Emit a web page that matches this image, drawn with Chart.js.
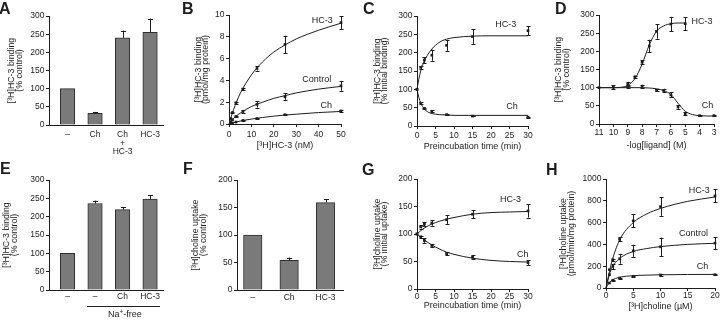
<!DOCTYPE html>
<html><head><meta charset="utf-8">
<script src="https://cdn.jsdelivr.net/npm/chart.js@4.4.1/dist/chart.umd.min.js"></script>
<style>
html,body{margin:0;padding:0;background:#fff;}
#fig{position:relative;width:720px;height:320px;overflow:hidden;font-family:"Liberation Sans",Arial,Helvetica,sans-serif;color:#1e1e1e;background:#fff;}
.pan{position:absolute;width:180px;height:160px;}
.pan canvas{display:block;}
.letter{position:absolute;font-weight:bold;font-size:16px;line-height:16px;}
.ann{position:absolute;font-size:9px;line-height:10px;white-space:nowrap;}
</style></head><body><div id="fig"></div>
<script>
// ---------------- DATA ----------------
// A: [3H]HC-3 binding (% control)
const aLabels = ['–', 'Ch', ['Ch', '+', 'HC-3'], 'HC-3'];
const aValues = [100, 32, 240, 255];
const aErrors = [0, 4, 20, 38];

// B: [3H]HC-3 binding (pmol/mg protein) vs [3H]HC-3 (nM)
const bConc = [0.78, 1.56, 3.125, 6.25, 12.5, 25, 50];
const bHC3 = [0.5, 1.05, 1.95, 3.2, 5.1, 7.3, 9.3];
const bHC3Err = [0, 0.05, 0.1, 0.1, 0.2, 0.8, 0.6];
const bControl = [0.2, 0.4, 0.7, 1.15, 1.8, 2.5, 3.5];
const bControlErr = [0, 0, 0.05, 0.1, 0.3, 0.3, 0.45];
const bCh = [0.05, 0.1, 0.18, 0.33, 0.5, 0.85, 1.2];
const bChErr = [0, 0, 0, 0.03, 0.05, 0.05, 0.08];
const bCurveX = [0, 2, 5, 10, 15, 20, 25, 30, 40, 50];
const bCurveHC3 = [0, 1.3, 2.8, 4.5, 5.7, 6.6, 7.25, 7.8, 8.6, 9.25];
const bCurveControl = [0, 0.5, 1.0, 1.6, 2.0, 2.35, 2.6, 2.85, 3.2, 3.45];
const bCurveCh = [0, 0.12, 0.27, 0.45, 0.6, 0.72, 0.82, 0.9, 1.05, 1.15];

// C: [3H]HC-3 binding (% initial) vs preincubation time (min)
const cTime = [0, 1, 2, 4, 8, 15, 30];
const cHC3 = [100, 160, 180, 193, 220, 244, 260];
const cHC3Err = [0, 5, 8, 15, 15, 20, 12];
const cCh = [100, 62, 48, 40, 31, 27, 24];
const cChErr = [0, 3, 2, 3, 2, 1, 1];
const cCurveT = [0, 0.5, 1, 2, 3, 4, 6, 8, 10, 15, 20, 30];
const cCurveHC3 = [100, 128, 150, 178, 196, 210, 228, 237, 241, 245, 246, 246];
const cCurveCh = [100, 78, 63, 46, 38, 34, 31, 30, 29, 29, 29, 29];

// D: [3H]HC-3 binding (% control) vs -log[ligand] (M)
const dHC3X = [9, 8.5, 8, 7.5, 7, 6, 5];
const dHC3 = [110, 130, 170, 215, 255, 275, 276];
const dHC3Err = [6, 3, 6, 17, 20, 20, 18];
const dChX = [11, 10, 9, 8, 7, 6.5, 6, 5.5, 5, 4, 3];
const dCh = [100, 101, 103, 104, 93, 92, 80, 47, 28, 23, 23];
const dChErr = [0, 6, 5, 4, 3, 5, 7, 5, 4, 1, 1];
const dCurveHC3X = [11, 10, 9.5, 9, 8.5, 8, 7.5, 7, 6.5, 6, 5.5, 5];
const dCurveHC3 = [100, 100, 101, 106, 125, 165, 218, 255, 270, 276, 278, 278];
const dCurveChX = [11, 10, 9, 8, 7.5, 7, 6.5, 6, 5.5, 5, 4.5, 4, 3.5, 3];
const dCurveCh = [100, 100, 100, 100, 99, 97, 92, 81, 57, 35, 26, 23, 22, 22];

// E: [3H]HC-3 binding (% control), Na+-free
const eLabels = ['–', '–', 'Ch', 'HC-3'];
const eValues = [100, 236, 219, 248];
const eErrors = [0, 8, 7, 10];

// F: [3H]choline uptake (% control)
const fLabels = ['–', 'Ch', 'HC-3'];
const fValues = [100, 54, 159];
const fErrors = [0, 5, 6];

// G: [3H]choline uptake (% initial) vs preincubation time (min)
const gTime = [0, 1, 2, 4, 8, 15, 30];
const gHC3 = [100, 113, 118, 120, 126, 136, 142];
const gHC3Err = [0, 3, 4, 5, 8, 7, 12];
const gCh = [100, 95, 88, 79, 64, 58, 48];
const gChErr = [0, 2, 4, 2, 3, 4, 4];
const gCurveT = [0, 1, 2, 4, 6, 8, 10, 15, 20, 25, 30];
const gCurveHC3 = [100, 106, 111, 118, 123, 127, 130, 136, 139, 140, 141];
const gCurveCh = [100, 94, 89, 80, 73, 67, 63, 56, 52, 50, 49];

// H: [3H]choline uptake (pmol/min/mg protein) vs [3H]choline (uM)
const hConc = [0.625, 1.25, 2.5, 5, 10, 20];
const hHC3 = [168, 259, 448, 616, 747, 845];
const hHC3Err = [0, 10, 20, 60, 85, 60];
const hControl = [122, 198, 268, 341, 378, 412];
const hControlErr = [0, 25, 45, 55, 85, 55];
const hCh = [46, 70, 91, 107, 119, 122];
const hChErr = [0, 3, 5, 6, 8, 5];
const hCurveX = [0, 0.5, 1, 2.5, 5, 7.5, 10, 15, 20];
const hCurveHC3 = [0, 120, 230, 440, 600, 680, 730, 795, 835];
const hCurveControl = [0, 100, 175, 270, 335, 362, 380, 400, 410];
const hCurveCh = [0, 42, 68, 98, 113, 118, 121, 124, 125];

// ---------------- RENDERING ----------------
const FONT = '"Liberation Sans", Arial, Helvetica, sans-serif';
const INK = '#1e1e1e';
const fig = document.getElementById('fig');

Chart.register({
  id: 'errorBars',
  afterDatasetsDraw(chart) {
    const ctx = chart.ctx;
    chart.data.datasets.forEach((ds, di) => {
      if (!ds.errors) return;
      const meta = chart.getDatasetMeta(di);
      const ys = chart.scales[meta.yAxisID];
      ctx.save();
      ctx.strokeStyle = INK; ctx.lineWidth = 1;
      meta.data.forEach((el, i) => {
        const e = ds.errors[i];
        if (!e) return;
        const v = ds.data[i].y;
        const x = Math.round(el.x) + 0.5;
        const yT = ys.getPixelForValue(v + e);
        const yB = ds.upOnly ? el.y : ys.getPixelForValue(v - e);
        const c = ds.capHalf || 2;
        ctx.beginPath();
        ctx.moveTo(x, yB); ctx.lineTo(x, yT);
        ctx.moveTo(x - c, Math.round(yT) + 0.5); ctx.lineTo(x + c, Math.round(yT) + 0.5);
        if (!ds.upOnly) { ctx.moveTo(x - c, Math.round(yB) + 0.5); ctx.lineTo(x + c, Math.round(yB) + 0.5); }
        ctx.stroke();
      });
      ctx.restore();
    });
  }
});
Chart.register({
  id: 'curveLabels',
  afterDraw(chart, args, opts) {
    if (!opts || !opts.items) return;
    const ctx = chart.ctx;
    ctx.save();
    ctx.font = '9px ' + FONT; ctx.fillStyle = INK; ctx.textAlign = 'center'; ctx.textBaseline = 'middle';
    opts.items.forEach(it => {
      ctx.fillText(it.t, chart.scales.x.getPixelForValue(it.x), chart.scales.y.getPixelForValue(it.y));
    });
    ctx.restore();
  }
});

function pts(xs, ys) { return xs.map((x, i) => ({x: x, y: ys[i]})); }
function curveDS(xs, ys) {
  return {type: 'line', data: pts(xs, ys), showLine: true, borderColor: INK, borderWidth: 1,
    pointRadius: 0, cubicInterpolationMode: 'monotone', fill: false, clip: false};
}
function pointDS(xs, ys, errs) {
  return {type: 'scatter', data: pts(xs, ys), showLine: false, pointRadius: 1.9, pointStyle: 'rect',
    backgroundColor: INK, borderColor: INK, borderWidth: 0, errors: errs, capHalf: 2, clip: false};
}
function barDS(labels, vals, errs, thick) {
  return {type: 'bar', data: vals.map((v, i) => ({x: i + 1, y: v})), backgroundColor: '#7a7a7a',
    borderColor: '#2e2e2e', borderWidth: 1, barThickness: thick, errors: errs, upOnly: true, capHalf: 2.5};
}

function panel(s) {
  const wrap = document.createElement('div');
  wrap.className = 'pan'; wrap.style.left = s.px + 'px'; wrap.style.top = s.py + 'px';
  const cv = document.createElement('canvas'); cv.width = 180; cv.height = 160;
  wrap.appendChild(cv); fig.appendChild(wrap);
  const ySize = 8.8, yLH = 0.83, xSize = 9, tickSize = 8.5;
  const padLeft = s.yTitleX - s.px - ySize * yLH / 2;
  const yWidth = s.area.l - s.px - padLeft;
  const padTop = s.area.t - s.py;
  const padRight = s.px + 180 - s.area.r;
  const xHeight = s.py + 160 - s.area.b;
  const xTitlePad = s.xTitle ? (s.py + 160 - s.xTitleY - xSize * 1.0 / 2) : 0;
  const tickFont = {family: FONT, size: tickSize, lineHeight: 1.0};
  new Chart(cv, {
    type: s.bars ? 'bar' : 'scatter',
    data: {datasets: s.datasets},
    options: {
      responsive: false, animation: false, events: [], devicePixelRatio: 1,
      layout: {padding: {left: padLeft, top: padTop, right: padRight, bottom: 0}},
      plugins: {legend: {display: false}, tooltip: {enabled: false}, curveLabels: {items: s.labels || null}},
      scales: {
        x: {
          type: 'linear', min: s.x.min, max: s.x.max, reverse: !!s.x.reverse, offset: false,
          ticks: {stepSize: s.x.step, includeBounds: false, font: tickFont, color: INK, padding: s.x.pad,
            maxRotation: 0, autoSkip: false,
            callback: s.x.cats ? (v) => (Number.isInteger(v) && s.x.cats[v - 1] !== undefined ? s.x.cats[v - 1] : '') : (v) => String(v)},
          grid: {display: true, drawOnChartArea: false, drawTicks: !s.bars, tickLength: 3, color: INK},
          border: {display: true, color: INK, width: 1},
          title: s.xTitle ? {display: true, text: s.xTitle, color: INK, font: {family: FONT, size: xSize, lineHeight: 1.0}, padding: {top: 0, bottom: xTitlePad}} : {display: false},
          afterFit(sc) { sc.height = xHeight; sc.paddingLeft = 0; sc.paddingRight = 0; }
        },
        y: {
          type: 'linear', min: s.y.min, max: s.y.max,
          ticks: {stepSize: s.y.step, font: tickFont, color: INK, padding: 1.5, callback: (v) => String(v)},
          grid: {display: true, drawOnChartArea: false, drawTicks: true, tickLength: 3, color: INK},
          border: {display: true, color: INK, width: 1},
          title: {display: true, text: s.yTitle, color: INK, font: {family: FONT, size: ySize, lineHeight: yLH}, padding: 0},
          afterFit(sc) { sc.width = yWidth; sc.paddingTop = 0; sc.paddingBottom = 0; }
        }
      }
    }
  });
}

function letter(t, x, y) {
  const d = document.createElement('div'); d.className = 'letter'; d.textContent = t;
  d.style.left = x + 'px'; d.style.top = y + 'px'; fig.appendChild(d);
}

// A
panel({px: 0, py: 0, bars: true, area: {l: 49, t: 16, r: 163, b: 125}, yTitleX: 12,
  yTitle: ['[³H]HC-3 binding', '(% control)'],
  x: {min: 0.327, max: 4.47, step: 1, cats: aLabels, pad: 5.5}, y: {min: 0, max: 300, step: 50},
  datasets: [barDS(aLabels, aValues, aErrors, 14.5)]});
// B
panel({px: 180, py: 0, area: {l: 229, t: 15, r: 341, b: 124}, yTitleX: 198.5,
  yTitle: ['[³H]HC-3 binding', '(pmol/mg protein)'], xTitle: '[³H]HC-3 (nM)', xTitleY: 146,
  x: {min: 0, max: 50, step: 10, pad: 3.5}, y: {min: 0, max: 10, step: 2},
  labels: [{t: 'HC-3', x: 41.6, y: 9.5}, {t: 'Control', x: 39.2, y: 4.05}, {t: 'Ch', x: 43.4, y: 1.67}],
  datasets: [curveDS(bCurveX, bCurveHC3), curveDS(bCurveX, bCurveControl), curveDS(bCurveX, bCurveCh),
    pointDS(bConc, bHC3, bHC3Err), pointDS(bConc, bControl, bControlErr), pointDS(bConc, bCh, bChErr)]});
// C
panel({px: 360, py: 0, area: {l: 417, t: 16, r: 528, b: 126}, yTitleX: 377.5,
  yTitle: ['[³H]HC-3 binding', '(% initial binding)'], xTitle: 'Preincubation time (min)', xTitleY: 146.7,
  x: {min: 0, max: 30, step: 5, pad: 2.5}, y: {min: 0, max: 300, step: 50},
  labels: [{t: 'HC-3', x: 24, y: 277}, {t: 'Ch', x: 25.7, y: 54}],
  datasets: [curveDS(cCurveT, cCurveHC3), curveDS(cCurveT, cCurveCh),
    pointDS(cTime, cHC3, cHC3Err), pointDS(cTime, cCh, cChErr)]});
// D
panel({px: 540, py: 0, area: {l: 599, t: 15, r: 714, b: 124}, yTitleX: 559,
  yTitle: ['[³H]HC-3 binding', '(% control)'], xTitle: '-log[ligand] (M)', xTitleY: 146,
  x: {min: 3, max: 11, step: 1, reverse: true, pad: 1.5}, y: {min: 0, max: 300, step: 50},
  labels: [{t: 'HC-3', x: 3.83, y: 283}, {t: 'Ch', x: 3.45, y: 52}],
  datasets: [curveDS(dCurveHC3X, dCurveHC3), curveDS(dCurveChX, dCurveCh),
    pointDS(dHC3X, dHC3, dHC3Err), pointDS(dChX, dCh, dChErr)]});
// E
panel({px: 0, py: 160, bars: true, area: {l: 49, t: 180, r: 163, b: 290}, yTitleX: 7,
  yTitle: ['[³H]HC-3 binding', '(% control)'],
  x: {min: 0.327, max: 4.47, step: 1, cats: eLabels, pad: 2.5}, y: {min: 0, max: 300, step: 50},
  datasets: [barDS(eLabels, eValues, eErrors, 14.5)]});
// F
panel({px: 180, py: 160, bars: true, area: {l: 237, t: 180, r: 343, b: 290}, yTitleX: 196,
  yTitle: ['[³H]choline uptake', '(% control)'],
  x: {min: 0.567, max: 3.48, step: 1, cats: fLabels, pad: 3}, y: {min: 0, max: 200, step: 50},
  datasets: [barDS(fLabels, fValues, fErrors, 18.5)]});
// G
panel({px: 360, py: 160, area: {l: 417, t: 179, r: 528, b: 289}, yTitleX: 377.5,
  yTitle: ['[³H]choline uptake', '(% initial uptake)'], xTitle: 'Preincubation time (min)', xTitleY: 306,
  x: {min: 0, max: 30, step: 5, pad: 0.5}, y: {min: 0, max: 200, step: 50},
  labels: [{t: 'HC-3', x: 25.3, y: 162}, {t: 'Ch', x: 28.6, y: 62}],
  datasets: [curveDS(gCurveT, gCurveHC3), curveDS(gCurveT, gCurveCh),
    pointDS(gTime, gHC3, gHC3Err), pointDS(gTime, gCh, gChErr)]});
// H
panel({px: 540, py: 160, area: {l: 606, t: 179, r: 715, b: 288}, yTitleX: 564,
  yTitle: ['[³H]choline uptake', '(pmol/min/mg protein)'], xTitle: '[³H]choline (µM)', xTitleY: 306.7,
  x: {min: 0, max: 20, step: 5, pad: 0.5}, y: {min: 0, max: 1000, step: 200},
  labels: [{t: 'HC-3', x: 17.1, y: 893}, {t: 'Control', x: 16.05, y: 497}, {t: 'Ch', x: 17.7, y: 195}],
  datasets: [curveDS(hCurveX, hCurveHC3), curveDS(hCurveX, hCurveControl), curveDS(hCurveX, hCurveCh),
    pointDS(hConc, hHC3, hHC3Err), pointDS(hConc, hControl, hControlErr), pointDS(hConc, hCh, hChErr)]});

// panel letters
letter('A', -1, 1); letter('B', 182, 1); letter('C', 363, 1); letter('D', 555, 1);
letter('E', 0, 161); letter('F', 183, 161); letter('G', 362, 162); letter('H', 546, 162);

// Na+-free bracket in E
const ln = document.createElement('div');
ln.style.cssText = 'position:absolute;left:87px;top:306px;width:73px;height:0;border-top:1px solid ' + INK + ';';
fig.appendChild(ln);
const nf = document.createElement('div'); nf.className = 'ann';
nf.innerHTML = 'Na<sup style="font-size:6.5px;line-height:0;vertical-align:3px">+</sup>-free';
nf.style.left = '108px'; nf.style.top = '309px';
fig.appendChild(nf);
</script></body></html>
